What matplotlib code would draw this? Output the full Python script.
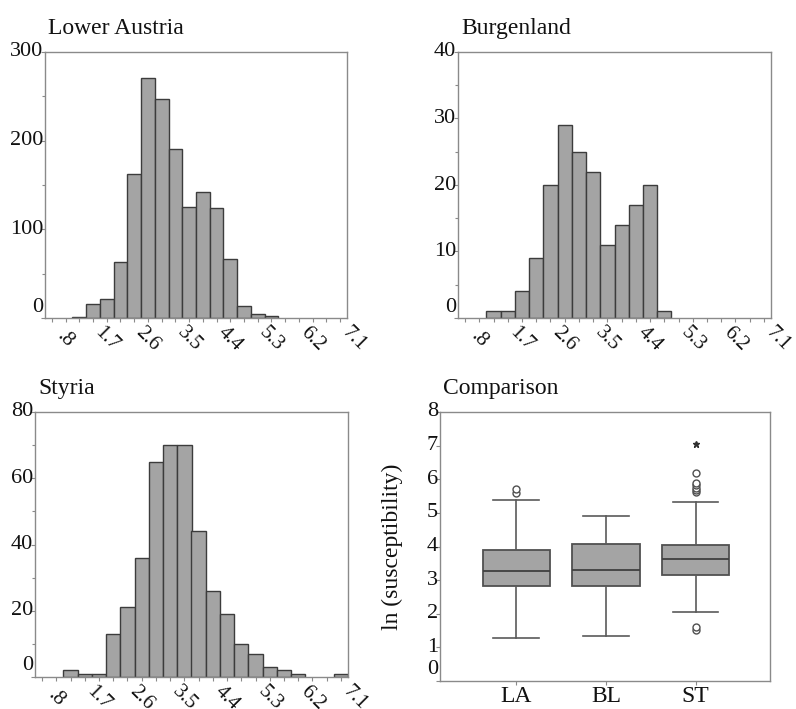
import matplotlib
matplotlib.use('Agg')
import matplotlib.pyplot as plt

plt.rcParams['font.family'] = ['Liberation Serif', 'DejaVu Serif']

# ---------------- data ----------------
bin_centers = [0.5, 0.8, 1.1, 1.4, 1.7, 2.0, 2.3, 2.6, 2.9, 3.2, 3.5,
               3.8, 4.1, 4.4, 4.7, 5.0, 5.3, 5.6, 5.9, 6.2, 6.5, 6.8]
x_tick_labels = ['.8', '1.7', '2.6', '3.5', '4.4', '5.3', '6.2', '7.1']
x_tick_values = [0.8, 1.7, 2.6, 3.5, 4.4, 5.3, 6.2, 7.1]

la_counts = [0, 0, 1, 16, 21, 63, 162, 271, 247, 191, 125,
             142, 124, 67, 13, 5, 2, 0, 0, 0, 0, 0]
bl_counts = [0, 0, 1, 1, 4, 9, 20, 29, 25, 22, 11,
             14, 17, 20, 1, 0, 0, 0, 0, 0, 0, 0]
st_counts = [0, 0, 2, 1, 1, 13, 21, 36, 65, 70, 70,
             44, 26, 19, 10, 7, 3, 2, 1, 0, 0, 1]

box_labels = ['LA', 'BL', 'ST']
box_q1 = [2.82, 2.82, 3.16]
box_med = [3.28, 3.29, 3.62]
box_q3 = [3.91, 4.08, 4.03]
box_whislo = [1.28, 1.34, 2.05]
box_whishi = [5.38, 4.91, 5.33]
box_outliers = [[5.58, 5.72], [], [1.52, 1.60, 5.62, 5.68, 5.75, 5.82, 5.88, 6.19]]
box_extremes = [[], [], [7.04]]

# ---------------- style ----------------
BAR_FC = '#a4a4a4'
BAR_EC = '#3c3c3c'
SPINE_C = '#8a8a8a'
TEXT_C = '#111111'
BIN_W = 0.3

W, H = 796, 709
fig = plt.figure(figsize=(W / 100, H / 100), dpi=100)


def rect(l, t, r, b):
    return [l / W, 1 - b / H, (r - l) / W, (b - t) / H]


def style_axes(ax):
    for s in ax.spines.values():
        s.set_color(SPINE_C)
        s.set_linewidth(1.0)
    ax.tick_params(which='both', direction='out', color=SPINE_C,
                   labelleft=False, labelbottom=False)
    ax.tick_params(which='major', length=3, width=0.8)
    ax.tick_params(which='minor', length=2, width=0.8)


def add_title(ax, text):
    ax.annotate(text, xy=(0, 1), xycoords='axes fraction',
                xytext=(3, 18), textcoords='offset pixels',
                ha='left', va='baseline', fontsize=17, color=TEXT_C)


def add_ylabels(ax, values, fs=16):
    for v in values:
        dy = 11 if v == 0 else 0
        ax.annotate(f'{v:g}', xy=(0, v), xycoords=('axes fraction', 'data'),
                    xytext=(-2, dy), textcoords='offset pixels',
                    ha='right', va='center', fontsize=fs, color=TEXT_C,
                    annotation_clip=False)


def histogram(ax, counts, ymax, ystep, title):
    xs = [c for c, n in zip(bin_centers, counts) if n > 0]
    hs = [n for n in counts if n > 0]
    ax.bar(xs, hs, width=BIN_W, color=BAR_FC, edgecolor=BAR_EC,
           linewidth=1.0, zorder=2)
    ax.set_xlim(bin_centers[0] - BIN_W / 2, bin_centers[-1] + BIN_W / 2)
    ax.set_ylim(0, ymax)
    ax.set_xticks(bin_centers)
    major = list(range(0, ymax + 1, ystep))
    ax.set_yticks(major)
    ax.set_yticks([m + ystep / 2 for m in major[:-1]], minor=True)
    style_axes(ax)
    add_ylabels(ax, major)
    for v, lab in zip(x_tick_values, x_tick_labels):
        ax.annotate(lab, xy=(v, 0), xycoords=('data', 'axes fraction'),
                    xytext=(0, -21), textcoords='offset pixels',
                    ha='center', va='center', rotation=-45,
                    fontsize=15, color=TEXT_C, annotation_clip=False)
    add_title(ax, title)


ax1 = fig.add_axes(rect(45, 52, 347, 318))
histogram(ax1, la_counts, 300, 100, 'Lower Austria')

ax2 = fig.add_axes(rect(458, 52, 771, 318))
histogram(ax2, bl_counts, 40, 10, 'Burgenland')

ax3 = fig.add_axes(rect(35, 412, 348, 677))
histogram(ax3, st_counts, 80, 20, 'Styria')

# ---------------- box plot ----------------
ax4 = fig.add_axes(rect(440, 412, 770, 681))
positions = [1, 2, 3]
stats = []
for i in range(3):
    stats.append(dict(med=box_med[i], q1=box_q1[i], q3=box_q3[i],
                      whislo=box_whislo[i], whishi=box_whishi[i],
                      fliers=box_outliers[i], label=box_labels[i]))
ax4.bxp(stats, positions=positions, widths=0.75, patch_artist=True,
        showfliers=True,
        boxprops=dict(facecolor=BAR_FC, edgecolor='#505050', linewidth=1.3),
        medianprops=dict(color='#404040', linewidth=1.3),
        whiskerprops=dict(color='#5a5a5a', linewidth=1.2),
        capprops=dict(color='#5a5a5a', linewidth=1.2),
        capwidths=0.51,
        flierprops=dict(marker='o', markerfacecolor='white',
                        markeredgecolor='#505050', markersize=5,
                        markeredgewidth=1.0))
for p, ext in zip(positions, box_extremes):
    if ext:
        ax4.plot([p] * len(ext), ext, linestyle='none', marker='*',
                 markersize=5, color='#303030')
ax4.set_xlim(0.15, 3.83)
ax4.set_ylim(0, 8)
ax4.set_xticks(positions)
ax4.set_yticks(range(0, 9))
style_axes(ax4)
add_ylabels(ax4, list(range(0, 9)), fs=16)
for p, lab in zip(positions, box_labels):
    ax4.annotate(lab, xy=(p, 0), xycoords=('data', 'axes fraction'),
                 xytext=(0, -5), textcoords='offset pixels',
                 ha='center', va='top', fontsize=17, color=TEXT_C,
                 annotation_clip=False)
ax4.annotate('ln (susceptibility)', xy=(0, 0.5), xycoords='axes fraction',
             xytext=(-48, 0), textcoords='offset pixels',
             ha='center', va='center', rotation=90, fontsize=17,
             color=TEXT_C)
add_title(ax4, 'Comparison')

fig.savefig('out.png', dpi=100)
